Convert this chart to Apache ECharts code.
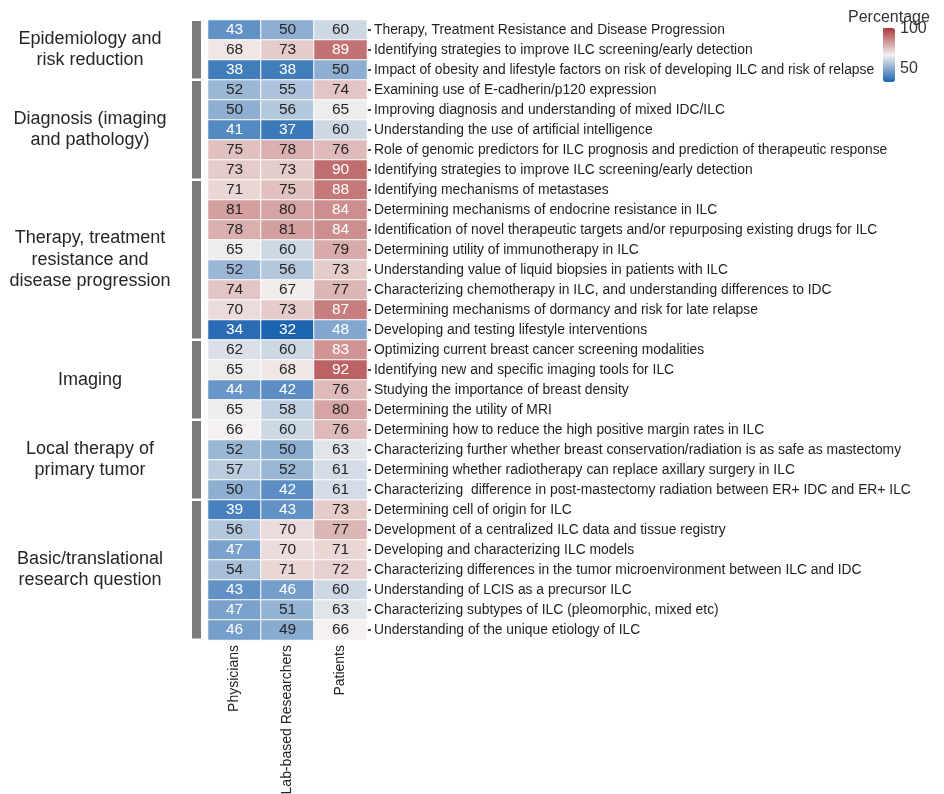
<!DOCTYPE html>
<html>
<head>
<meta charset="utf-8">
<script src="https://cdn.jsdelivr.net/npm/echarts@6/dist/echarts.min.js"></script>
<style>html,body{margin:0;padding:0;background:#fff}#c{width:944px;height:794px}</style>
</head>
<body>
<div id="c"></div>
<script>
const columns = ['Physicians', 'Lab-based Researchers', 'Patients'];
const rowLabels = [
  'Therapy, Treatment Resistance and Disease Progression',
  'Identifying strategies to improve ILC screening/early detection',
  'Impact of obesity and lifestyle factors on risk of developing ILC and risk of relapse',
  'Examining use of E-cadherin/p120 expression',
  'Improving diagnosis and understanding of mixed IDC/ILC',
  'Understanding the use of artificial intelligence',
  'Role of genomic predictors for ILC prognosis and prediction of therapeutic response',
  'Identifying strategies to improve ILC screening/early detection',
  'Identifying mechanisms of metastases',
  'Determining mechanisms of endocrine resistance in ILC',
  'Identification of novel therapeutic targets and/or repurposing existing drugs for ILC',
  'Determining utility of immunotherapy in ILC',
  'Understanding value of liquid biopsies in patients with ILC',
  'Characterizing chemotherapy in ILC, and understanding differences to IDC',
  'Determining mechanisms of dormancy and risk for late relapse',
  'Developing and testing lifestyle interventions',
  'Optimizing current breast cancer screening modalities',
  'Identifying new and specific imaging tools for ILC',
  'Studying the importance of breast density',
  'Determining the utility of MRI',
  'Determining how to reduce the high positive margin rates in ILC',
  'Characterizing further whether breast conservation/radiation is as safe as mastectomy',
  'Determining whether radiotherapy can replace axillary surgery in ILC',
  'Characterizing  difference in post-mastectomy radiation between ER+ IDC and ER+ ILC',
  'Determining cell of origin for ILC',
  'Development of a centralized ILC data and tissue registry',
  'Developing and characterizing ILC models',
  'Characterizing differences in the tumor microenvironment between ILC and IDC',
  'Understanding of LCIS as a precursor ILC',
  'Characterizing subtypes of ILC (pleomorphic, mixed etc)',
  'Understanding of the unique etiology of ILC'
];
const physicians = [43,68,38,52,50,41,75,73,71,81,78,65,52,74,70,34,62,65,44,65,66,52,57,50,39,56,47,54,43,47,46];
const labResearchers = [50,73,38,55,56,37,78,73,75,80,81,60,56,67,73,32,60,68,42,58,60,50,52,42,43,70,70,71,46,51,49];
const patients = [60,89,50,74,65,60,76,90,88,84,84,79,73,77,87,48,83,92,76,80,76,63,61,61,73,77,71,72,60,63,66];
const groupNames = [
  'Epidemiology and\nrisk reduction',
  'Diagnosis (imaging\nand pathology)',
  'Therapy, treatment\nresistance and\ndisease progression',
  'Imaging',
  'Local therapy of\nprimary tumor',
  'Basic/translational\nresearch question'
];
const groupStart = [0, 3, 8, 16, 20, 24];
const groupEnd = [2, 7, 15, 19, 23, 30];
const scaleMin = 32, scaleMax = 100;
const legendAxisMin = 33.75, legendAxisMax = 101.25;
const legendTicks = [50, 100];

const FONT = '"Liberation Sans", Arial, Helvetica, sans-serif';
const cols = [physicians, labResearchers, patients];
const heatData = [];
cols.forEach((arr, ci) => arr.forEach((v, ri) => {
  const light = v <= 48 || v >= 83;
  heatData.push({ value: [ci, ri, v], label: { color: light ? '#ffffff' : '#262626' } });
}));
const groupData = groupStart.map((s, i) => [s, groupEnd[i]]);

const chart = echarts.init(document.getElementById('c'), null, { renderer: 'canvas' });
chart.setOption({
  animation: false,
  backgroundColor: '#ffffff',
  title: {
    text: 'Percentage', left: 843, top: 5,
    textStyle: { fontFamily: FONT, fontSize: 16, fontWeight: 'normal', color: '#333' }
  },
  grid: [
    { left: 208, top: 20, width: 159, height: 620, outerBoundsMode: 'none', containLabel: false },
    { left: 883, top: 28, width: 12, height: 54, outerBoundsMode: 'none', containLabel: false }
  ],
  xAxis: [
    {
      type: 'category', gridIndex: 0, data: columns, position: 'bottom',
      axisLine: { show: false }, axisTick: { show: false }, splitLine: { show: false },
      axisLabel: { rotate: 90, margin: 5, fontFamily: FONT, fontSize: 14, color: '#222' }
    },
    { type: 'value', gridIndex: 1, show: false }
  ],
  yAxis: [
    {
      type: 'category', gridIndex: 0, inverse: true, position: 'right',
      data: rowLabels.map((_, i) => String(i)),
      axisLine: { show: false }, splitLine: { show: false },
      axisTick: { show: true, alignWithLabel: true, length: 4, lineStyle: { color: '#222', width: 1.6 } },
      axisLabel: {
        margin: 7, fontFamily: FONT, fontSize: 13.85, color: '#1e1e1e', interval: 0,
        formatter: v => rowLabels[+v]
      }
    },
    {
      type: 'value', gridIndex: 1, min: legendAxisMin, max: legendAxisMax, position: 'right',
      axisLine: { show: false }, splitLine: { show: false },
      axisTick: { show: true, length: 3, customValues: legendTicks, lineStyle: { color: '#333', width: 1.5 } },
      axisLabel: { margin: 5, customValues: legendTicks, fontFamily: FONT, fontSize: 16, color: '#333' }
    }
  ],
  visualMap: {
    type: 'continuous', min: scaleMin, max: scaleMax, seriesIndex: 0,
    left: 883, top: 28, itemWidth: 12, itemHeight: 54, padding: 0,
    calculable: false, hoverLink: false, text: null, showLabel: false,
    textStyle: { color: 'rgba(0,0,0,0)' },
    inRange: { color: ['#1c64b0', '#f4f1f0', '#ab3639'] }
  },
  series: [
    {
      type: 'heatmap', xAxisIndex: 0, yAxisIndex: 0, data: heatData,
      itemStyle: { borderColor: '#ffffff', borderWidth: 1 },
      label: { show: true, fontFamily: FONT, fontSize: 15.5 },
      emphasis: { disabled: true }
    },
    {
      type: 'custom', xAxisIndex: 0, yAxisIndex: 0, data: groupData, clip: false, silent: true,
      renderItem: function (params, api) {
        const s = api.value(0), e = api.value(1);
        const pTop = api.coord([0, s]);
        const pBot = api.coord([0, e]);
        const h = api.size([0, 1])[1];
        const left = params.coordSys.x;
        const y0 = pTop[1] - h / 2 + 1;
        const y1 = pBot[1] + h / 2 - 1.5;
        return {
          type: 'group',
          children: [
            { type: 'rect', shape: { x: left - 16, y: y0, width: 9, height: y1 - y0 }, style: { fill: '#7b7b7e' } },
            {
              type: 'text',
              style: {
                text: groupNames[params.dataIndex], x: left - 118, y: (y0 + y1) / 2,
                align: 'center', verticalAlign: 'middle', fontFamily: FONT, fontSize: 18,
                lineHeight: 21.5, fill: '#262626'
              }
            }
          ]
        };
      }
    }
  ]
});
</script>
</body>
</html>
